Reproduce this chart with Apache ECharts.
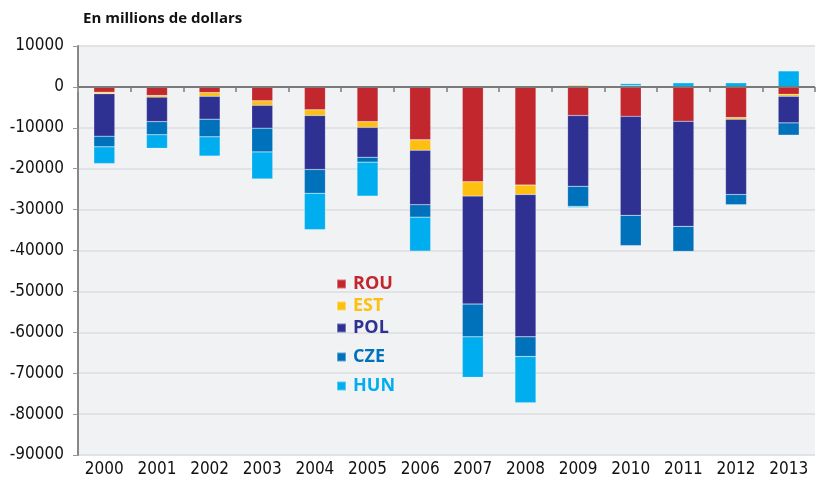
<!DOCTYPE html>
<html>
<head>
<meta charset="utf-8">
<script src="https://cdn.jsdelivr.net/npm/echarts@6/dist/echarts.min.js"></script>
<style>
  html, body { margin: 0; padding: 0; background: #ffffff; }
  #chart { width: 817px; height: 488px; }
</style>
</head>
<body>
<div id="chart"></div>
<script>
var years = ['2000','2001','2002','2003','2004','2005','2006','2007','2008','2009','2010','2011','2012','2013'];
var rou = [-1300, -2100, -1400, -3400, -5600, -8500, -12950, -23200, -24000, -7000, -7200, -8400, -7500, -1800];
var est = [-350, -400, -900, -1100, -1400, -1400, -2550, -3500, -2300, 400, 300, 100, -400, -500];
var pol = [-10400, -6000, -5600, -5600, -13200, -7300, -13300, -26400, -34800, -17300, -24200, -25700, -18400, -6500];
var cze = [-2600, -3200, -4300, -5800, -5800, -1200, -3050, -8000, -4800, -4900, -7400, -6100, -2500, -3000];
var hun = [-4100, -3300, -4700, -6600, -8900, -8300, -8300, -9900, -11300, -300, 500, 900, 1000, 3900];

var names = ['ROU', 'EST', 'POL', 'CZE', 'HUN'];
var colors = ['#c1272d', '#fdc010', '#2e3192', '#0071bb', '#00aeef'];
var values = [rou, est, pol, cze, hun];
// legend rows are not evenly spaced in the original
var legendTops = [270, 292, 314, 343, 372];

var chart = echarts.init(document.getElementById('chart'));

var labelFont = "'Liberation Sans Narrow', 'DejaVu Sans Condensed', sans-serif";

var series = names.map(function (n, i) {
  var s = {
    name: n,
    type: 'bar',
    stack: 'total',
    barWidth: 21,
    data: values[i],
    itemStyle: { color: colors[i], borderColor: 'rgba(255,255,255,0.35)', borderWidth: 0.5 }
  };
  if (i === 0) {
    s.markLine = {
      silent: true,
      symbol: 'none',
      label: { show: false },
      lineStyle: { color: '#7a7a7a', width: 2, type: 'solid' },
      data: [{ yAxis: 0 }]
    };
  }
  return s;
});

var legends = names.map(function (n, i) {
  return {
    left: 331,
    top: legendTops[i],
    orient: 'vertical',
    icon: 'rect',
    itemWidth: 9,
    itemHeight: 9,
    itemGap: 0,
    data: [{ name: n, textStyle: { color: colors[i] } }],
    textStyle: {
      fontFamily: "'Open Sans', sans-serif",
      fontWeight: 'bold',
      fontSize: 18,
      padding: [0, 0, 0, 2]
    }
  };
});

option = {
  animation: false,
  backgroundColor: '#ffffff',
  title: {
    text: 'En millions de dollars',
    left: 78,
    top: 6,
    textStyle: {
      fontFamily: "'Open Sans', sans-serif",
      fontWeight: 'bold',
      fontSize: 15,
      color: '#111'
    }
  },
  legend: legends,
  grid: {
    left: 78,
    right: 2,
    top: 46,
    bottom: 33,
    show: true,
    backgroundColor: '#f0f2f4',
    borderWidth: 0
  },
  xAxis: {
    type: 'category',
    data: years,
    boundaryGap: true,
    axisLine: { show: false },
    axisTick: { show: true, length: 5, lineStyle: { color: '#999', width: 2 } },
    axisLabel: {
      color: '#111',
      fontFamily: labelFont,
      fontSize: 17,
      margin: 6,
      interval: 0
    }
  },
  yAxis: {
    type: 'value',
    min: -90000,
    max: 10000,
    interval: 10000,
    axisLine: { show: true, lineStyle: { color: '#888', width: 2 } },
    axisTick: { show: true, length: 5, lineStyle: { color: '#999' } },
    splitLine: { show: true, lineStyle: { color: '#e0e2e5', width: 2 } },
    axisLabel: {
      color: '#111',
      fontFamily: labelFont,
      fontSize: 17,
      margin: 14,
      formatter: function (v) { return String(v); }
    }
  },
  series: series
};

chart.setOption(option);
</script>
</body>
</html>
